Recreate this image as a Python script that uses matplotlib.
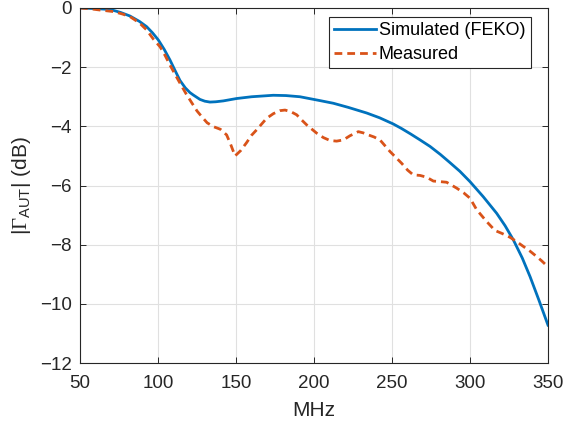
import matplotlib
matplotlib.use("Agg")
import matplotlib.pyplot as plt

plt.rcParams['font.family'] = ['Liberation Sans', 'DejaVu Sans']
plt.rcParams['mathtext.fontset'] = 'custom'
plt.rcParams['mathtext.rm'] = 'Liberation Serif'
plt.rcParams['mathtext.sf'] = 'Liberation Sans'
plt.rcParams['mathtext.it'] = 'Liberation Sans:italic'

sim_f = [50, 60, 66, 71.4, 76, 82, 88, 92.7, 96.5, 100.2, 104, 107.7, 111, 114.1, 117.5,
         120.5, 122.6, 126.9, 130, 133.3, 137, 141.9, 150.4, 160, 173.9, 182, 191, 203.8,
         212.4, 222, 233.8, 242, 250.8, 256, 262, 268, 274.4, 281, 287, 293.5, 300, 308.5,
         317.1, 322.5, 327.8, 333.5, 338.5, 344, 350]
sim_db = [0, -0.02, -0.04, -0.08, -0.15, -0.27, -0.45, -0.63, -0.84, -1.08, -1.4, -1.76,
          -2.12, -2.45, -2.7, -2.86, -2.94, -3.09, -3.15, -3.18, -3.17, -3.14, -3.06, -3.0,
          -2.95, -2.96, -3.0, -3.13, -3.22, -3.36, -3.55, -3.71, -3.92, -4.07, -4.26,
          -4.46, -4.68, -4.95, -5.22, -5.52, -5.87, -6.38, -6.94, -7.36, -7.84, -8.45,
          -9.08, -9.85, -10.72]

meas_f = [50, 57, 63, 71.4, 77, 82, 88, 92.7, 97, 101.3, 104.5, 107.7, 111, 114.1, 118,
          121.6, 125, 128, 131.5, 135.5, 140, 144, 146.5, 149.4, 153, 156.8, 160, 163.2,
          169.6, 174, 178.2, 181.4, 185, 188.9, 192, 195.3, 201.7, 206, 210.3, 214.5,
          218.8, 223, 228.4, 231.5, 234.8, 238.5, 242.3, 248.7, 256.2, 260, 263.6, 268,
          272.2, 276.5, 281, 285, 291.5, 296, 300, 304.3, 310.7, 316, 320.5, 325.6, 330,
          334.2, 338.5, 342.7, 346, 350]
meas_db = [0, -0.03, -0.07, -0.12, -0.2, -0.29, -0.5, -0.74, -1.05, -1.31, -1.6, -1.93,
           -2.25, -2.54, -2.9, -3.2, -3.48, -3.67, -3.88, -4.01, -4.1, -4.29, -4.6, -5.0,
           -4.82, -4.55, -4.3, -4.12, -3.73, -3.57, -3.47, -3.45, -3.5, -3.61, -3.78,
           -3.95, -4.23, -4.38, -4.48, -4.5, -4.46, -4.32, -4.18, -4.22, -4.29, -4.36,
           -4.46, -4.85, -5.25, -5.48, -5.64, -5.66, -5.72, -5.85, -5.87, -5.89, -6.09,
           -6.25, -6.43, -6.82, -7.22, -7.52, -7.62, -7.75, -7.9, -8.06, -8.22, -8.4,
           -8.55, -8.75]

xticks = [50, 100, 150, 200, 250, 300, 350]
yticks = [0, -2, -4, -6, -8, -10, -12]

fig = plt.figure(figsize=(5.63, 4.28), dpi=100)
ax = fig.add_axes([80/563, 1-363/428, 468/563, 355/428])

ax.plot(sim_f, sim_db, color='#0072BD', lw=2, label='Simulated (FEKO)')
ax.plot(meas_f, meas_db, color='#D95319', lw=2, dashes=(2.8, 1.8), label='Measured')

ax.set_xlim(50, 350)
ax.set_ylim(-12, 0)
ax.set_xticks(xticks)
ax.set_yticks(yticks)
ax.grid(True, color='#e0e0e0', lw=0.8)
ax.set_axisbelow(True)
ax.tick_params(direction='in', length=4, width=0.7, top=True, right=True,
               labelsize=13.5, colors='#262626')
ax.tick_params(axis='x', pad=9)
ax.tick_params(axis='y', pad=6)
for s in ax.spines.values():
    s.set_color('#262626')
    s.set_linewidth(0.8)

ax.set_xlabel('MHz', fontsize=15, color='#262626', va='top')
ax.xaxis.set_label_coords(0.5, -0.106)
ax.set_ylabel(r'$\mathsf{|}\mathrm{\Gamma}_{\mathsf{AUT}}\mathsf{|}$ (dB)', fontsize=15,
              color='#262626')
ax.yaxis.set_label_coords(-0.100, 0.5)

leg = ax.legend(loc='upper right', bbox_to_anchor=(0.963, 0.9755), fontsize=13,
                fancybox=False, framealpha=1, edgecolor='#262626', handlelength=2.3,
                borderpad=0.3, labelspacing=0.38, handletextpad=0.17, borderaxespad=0)
leg.get_frame().set_linewidth(0.8)

fig.savefig('out.png', dpi=100)
